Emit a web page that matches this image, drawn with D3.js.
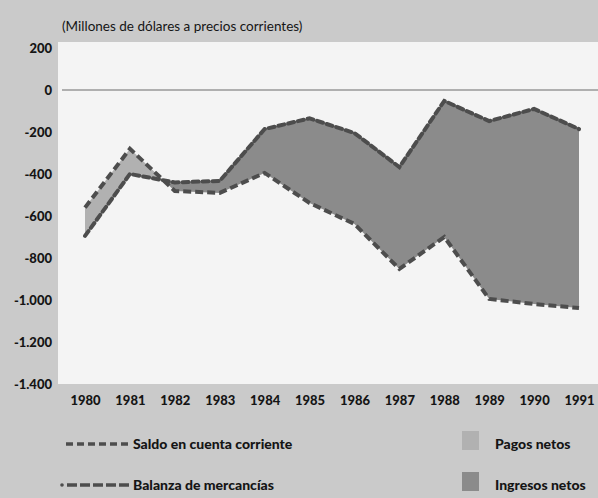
<!DOCTYPE html>
<html lang="es">
<head>
<meta charset="UTF-8">
<title>Saldo en cuenta corriente</title>
<script src="https://cdn.jsdelivr.net/npm/d3@7"></script>
<style>
  body { margin: 0; background: #cacaca; }
  text { font-family: "Lato", "Open Sans", sans-serif; fill: #151515; }
</style>
</head>
<body>
<svg id="chart" width="598" height="498"></svg>
<script>
// data (millones de dólares)
var years = [1980, 1981, 1982, 1983, 1984, 1985, 1986, 1987, 1988, 1989, 1990, 1991];
var saldo = [-695, -400, -440, -433, -186, -135, -205, -367, -52, -148, -90, -186];
var balanza = [-560, -280, -481, -490, -395, -538, -638, -852, -700, -995, -1019, -1038];
var yTicks = [200, 0, -200, -400, -600, -800, -1000, -1200, -1400];
var legendLines = ["Saldo en cuenta corriente", "Balanza de mercancías"];
var legendAreas = ["Pagos netos", "Ingresos netos"];

var svg = d3.select("#chart");
var W = 598, H = 498;

var x = d3.scaleLinear().domain([1980, 1991]).range([85, 579]);
var y = d3.scaleLinear().domain([-1400, 200]).range([384, 48]);

// 1.000 style thousands, plain hyphen for negatives
var fmt = function (d) {
  return (d < 0 ? "-" : "") + d3.format(",")(Math.abs(d)).replace(/,/g, ".");
};

// plot background
svg.append("rect")
  .attr("x", 58).attr("y", 42)
  .attr("width", W - 58).attr("height", 342)
  .attr("fill", "#f4f4f4");

svg.append("text")
  .attr("x", 62).attr("y", 31)
  .attr("font-size", 13.5)
  .text("(Millones de dólares a precios corrientes)");

// y axis labels
var yAxis = d3.axisLeft(y).tickValues(yTicks).tickSize(0).tickPadding(6)
  .tickFormat(fmt);
var gy = svg.append("g").attr("transform", "translate(58,0)").call(yAxis);
gy.select(".domain").remove();
gy.selectAll("text")
  .attr("font-family", "Lato, sans-serif")
  .attr("font-size", 13).attr("font-weight", "900").attr("fill", "#151515");

// x axis labels
var xAxis = d3.axisBottom(x).tickValues(years).tickSize(0).tickPadding(0)
  .tickFormat(d3.format("d"));
var gx = svg.append("g").attr("transform", "translate(0,396)").call(xAxis);
gx.select(".domain").remove();
gx.selectAll("text")
  .attr("font-family", "Lato, sans-serif")
  .attr("font-size", 13).attr("font-weight", "900").attr("fill", "#151515");

// zero line
svg.append("line")
  .attr("x1", 62).attr("x2", W)
  .attr("y1", y(0)).attr("y2", y(0))
  .attr("stroke", "#6a6a6a").attr("stroke-width", 1.2);

var rows = years.map(function (d, i) { return { year: d, s: saldo[i], b: balanza[i] }; });

// difference areas via clip paths
var defs = svg.append("defs");
defs.append("clipPath").attr("id", "belowB").append("path")
  .attr("d", d3.area().x(d => x(d.year)).y0(H).y1(d => y(d.b))(rows));
defs.append("clipPath").attr("id", "belowS").append("path")
  .attr("d", d3.area().x(d => x(d.year)).y0(H).y1(d => y(d.s))(rows));

svg.append("path")
  .attr("clip-path", "url(#belowB)")
  .attr("fill", "#b1b1b1")
  .attr("d", d3.area().x(d => x(d.year)).y0(d => y(d.s)).y1(0)(rows));

svg.append("path")
  .attr("clip-path", "url(#belowS)")
  .attr("fill", "#8b8b8b")
  .attr("d", d3.area().x(d => x(d.year)).y0(d => y(d.b)).y1(0)(rows));

// dashed lines
var line = d3.line().x(d => x(d[0])).y(d => y(d[1]));
svg.append("path")
  .attr("d", line(years.map((d, i) => [d, balanza[i]])))
  .attr("fill", "none").attr("stroke", "#4d4d4d")
  .attr("stroke-width", 4).attr("stroke-dasharray", "8,4");
svg.append("path")
  .attr("d", line(years.map((d, i) => [d, saldo[i]])))
  .attr("fill", "none").attr("stroke", "#4d4d4d")
  .attr("stroke-width", 4).attr("stroke-dasharray", "6,4")
  .attr("stroke-linecap", "round");

// legend
var lg = svg.append("g");
lg.append("line").attr("x1", 66).attr("x2", 130).attr("y1", 444).attr("y2", 444)
  .attr("stroke", "#4d4d4d").attr("stroke-width", 3.5).attr("stroke-dasharray", "7,4");
lg.append("circle").attr("cx", 62).attr("cy", 485).attr("r", 1.8).attr("fill", "#4d4d4d");
lg.append("line").attr("x1", 67).attr("x2", 130).attr("y1", 485).attr("y2", 485)
  .attr("stroke", "#4d4d4d").attr("stroke-width", 3.5).attr("stroke-dasharray", "10,3");
lg.selectAll("text.ll").data(legendLines).enter().append("text")
  .attr("class", "ll")
  .attr("x", 133).attr("y", (d, i) => 449 + i * 41)
  .attr("font-size", 14).attr("font-weight", "900")
  .text(d => d);

lg.selectAll("rect").data(legendAreas).enter().append("rect")
  .attr("x", 462).attr("y", (d, i) => 431 + i * 41)
  .attr("width", 17).attr("height", 19)
  .attr("fill", (d, i) => i === 0 ? "#b1b1b1" : "#8b8b8b");
lg.selectAll("text.la").data(legendAreas).enter().append("text")
  .attr("class", "la")
  .attr("x", 495).attr("y", (d, i) => 449 + i * 41)
  .attr("font-size", 14).attr("font-weight", "900")
  .text(d => d);
</script>
</body>
</html>
